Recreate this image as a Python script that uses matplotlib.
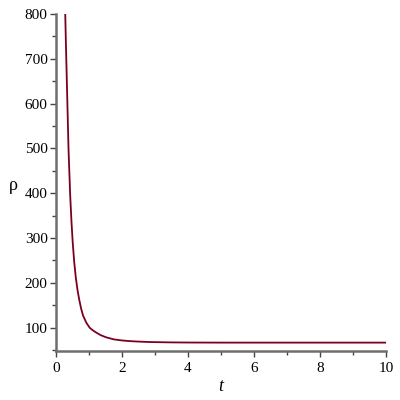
import matplotlib.pyplot as plt
from matplotlib.ticker import MultipleLocator

# values (t, rho)
t_vals = [0.28, 0.30, 0.33, 0.38, 0.43, 0.47, 0.505, 0.55, 0.60, 0.65, 0.70, 0.76,
          0.82, 0.92, 1.02, 1.1, 1.2, 1.35, 1.52, 1.75, 2.0, 2.25, 2.5, 2.85, 3.5,
          4.0, 5.0, 6.0, 7.0, 8.0, 9.0, 10.0]
rho_vals = [800, 735, 645, 497, 395, 335, 292, 248, 212, 185, 164, 143,
            127, 111, 100, 95, 90, 83.5, 78.5, 74, 71.5, 70, 69, 68, 67.2,
            66.9, 66.7, 66.7, 66.7, 66.7, 66.7, 66.7]

line_color = "#7a0020"
axis_color = "#6e6e6e"

fig = plt.figure(figsize=(4, 4), dpi=100)
ax = fig.add_axes([0.14, 0.1225, 0.825, 0.8425])

ax.plot(t_vals, rho_vals, color=line_color, linewidth=1.3)

ax.set_xlim(0, 10)
ax.set_ylim(48, 800)

for side in ["top", "right"]:
    ax.spines[side].set_visible(False)
for side in ["left", "bottom"]:
    ax.spines[side].set_color(axis_color)
    ax.spines[side].set_linewidth(1.8)

ax.xaxis.set_major_locator(MultipleLocator(2))
ax.xaxis.set_minor_locator(MultipleLocator(1))
ax.yaxis.set_major_locator(MultipleLocator(100))
ax.yaxis.set_minor_locator(MultipleLocator(50))
ax.tick_params(which="both", direction="out", color="#444444", width=1)
ax.tick_params(which="major", length=4, labelsize=11, pad=2)
ax.tick_params(axis="x", which="major", pad=4)
ax.tick_params(which="minor", length=3)
for lbl in ax.get_xticklabels() + ax.get_yticklabels():
    lbl.set_fontfamily("Liberation Serif")

ax.set_xlabel("t", fontsize=13, fontstyle="italic", family="Liberation Serif", labelpad=2)
ax.set_ylabel("ρ", fontsize=13, family="Liberation Serif", rotation=0,
              ha="center", va="center")
ax.yaxis.set_label_coords(-0.13, 0.49)

fig.savefig("out.png", dpi=100)
